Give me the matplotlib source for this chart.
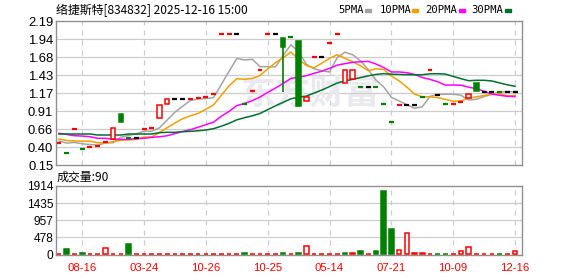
import numpy as np
import matplotlib
matplotlib.use("Agg")
from matplotlib import pyplot as plt
from matplotlib.patches import Rectangle

title = "络捷斯特[834832] 2025-12-16 15:00"
vol_title = "成交量:90"

# candles (one per period)
opens = [0.46, 0.32, 0.655, 0.37, 0.40, 0.415, 0.47, 0.52, 0.87, 0.53,
         0.53, 0.655, 0.67, 0.81, 1.01, 1.08, 1.08, 1.08, 1.10, 1.115,
         1.15, 2.01, 2.01, 2.01, 1.01, 1.20, 1.49, 2.00, 2.00, 1.945,
         1.96, 1.905, 1.05, 1.68, 1.68, 1.88, 2.005, 1.31, 1.365, 1.26,
         1.26, 1.26, 1.01, 0.755, 1.00, 1.00, 1.00, 1.12, 1.49, 1.14,
         1.01, 1.01, 1.04, 1.095, 1.31, 1.19, 1.19, 1.18, 1.19, 1.19]
closes = [0.46, 0.32, 0.655, 0.37, 0.40, 0.415, 0.47, 0.67, 0.76, 0.53,
          0.53, 0.655, 0.67, 1.00, 1.085, 1.08, 1.08, 1.08, 1.10, 1.115,
          1.15, 2.01, 2.01, 2.01, 1.01, 1.20, 1.49, 2.00, 2.00, 1.82,
          1.96, 0.99, 1.11, 1.68, 1.68, 1.88, 2.005, 1.495, 1.495, 1.26,
          1.26, 1.26, 1.01, 0.755, 1.00, 1.00, 1.00, 1.12, 1.49, 1.14,
          1.01, 1.01, 1.04, 1.15, 1.20, 1.19, 1.19, 1.18, 1.19, 1.19]
highs = [0.46, 0.32, 0.655, 0.37, 0.40, 0.415, 0.47, 0.67, 0.87, 0.53,
         0.53, 0.655, 0.67, 1.00, 1.085, 1.08, 1.08, 1.08, 1.10, 1.115,
         1.15, 2.01, 2.01, 2.01, 1.01, 1.20, 1.49, 2.00, 2.00, 1.945,
         1.96, 1.905, 1.11, 1.68, 1.68, 1.88, 2.005, 1.495, 1.495, 1.26,
         1.26, 1.26, 1.035, 0.755, 1.00, 1.00, 1.00, 1.12, 1.49, 1.14,
         1.01, 1.01, 1.04, 1.15, 1.31, 1.19, 1.19, 1.18, 1.19, 1.19]
lows = [0.46, 0.32, 0.655, 0.37, 0.40, 0.415, 0.47, 0.52, 0.76, 0.53,
        0.53, 0.655, 0.67, 0.81, 1.01, 1.08, 1.08, 1.08, 1.10, 1.115,
        1.15, 2.01, 2.01, 2.01, 1.01, 1.20, 1.49, 2.00, 2.00, 1.19,
        1.96, 0.99, 1.05, 1.68, 1.68, 1.88, 2.005, 1.31, 1.365, 1.26,
        1.26, 1.26, 1.01, 0.755, 1.00, 1.00, 1.00, 1.12, 1.49, 1.14,
        1.01, 1.01, 1.04, 1.095, 1.20, 1.19, 1.19, 1.18, 1.19, 1.19]
# r = up, g = down, k = unchanged
candle_kind = ["r", "g", "r", "g", "r", "r", "r", "r", "g", "g",
               "k", "r", "r", "r", "r", "k", "k", "r", "r", "r",
               "r", "r", "r", "k", "g", "r", "r", "r", "k", "g",
               "g", "g", "r", "r", "k", "r", "r", "r", "r", "g",
               "k", "g", "g", "g", "r", "k", "k", "g", "r", "k",
               "g", "r", "r", "r", "g", "k", "k", "g", "k", "k"]

ma5 = [0.490, 0.460, 0.470, 0.450, 0.441, 0.432, 0.462, 0.465, 0.543, 0.569,
       0.592, 0.629, 0.629, 0.677, 0.788, 0.898, 0.983, 1.065, 1.085, 1.091,
       1.105, 1.291, 1.477, 1.659, 1.638, 1.648, 1.544, 1.542, 1.540, 1.702,
       1.854, 1.754, 1.576, 1.512, 1.484, 1.468, 1.671, 1.748, 1.711, 1.627,
       1.503, 1.354, 1.257, 1.109, 1.057, 1.005, 0.953, 0.975, 1.122, 1.150,
       1.152, 1.154, 1.138, 1.070, 1.082, 1.118, 1.154, 1.182, 1.190, 1.188]
ma10 = [0.518, 0.497, 0.490, 0.487, 0.487, 0.466, 0.462, 0.480, 0.500, 0.505,
        0.512, 0.546, 0.547, 0.610, 0.679, 0.745, 0.806, 0.847, 0.881, 0.940,
        1.002, 1.137, 1.271, 1.372, 1.365, 1.377, 1.418, 1.510, 1.600, 1.670,
        1.751, 1.649, 1.559, 1.526, 1.593, 1.661, 1.713, 1.662, 1.612, 1.556,
        1.486, 1.513, 1.503, 1.410, 1.342, 1.254, 1.154, 1.116, 1.116, 1.104,
        1.079, 1.054, 1.057, 1.096, 1.116, 1.135, 1.154, 1.160, 1.130, 1.135]
ma20 = [0.599, 0.582, 0.565, 0.560, 0.551, 0.528, 0.528, 0.514, 0.514, 0.514,
        0.525, 0.528, 0.542, 0.550, 0.565, 0.595, 0.625, 0.650, 0.685, 0.722,
        0.757, 0.841, 0.909, 0.991, 1.022, 1.061, 1.112, 1.178, 1.240, 1.305,
        1.376, 1.393, 1.415, 1.449, 1.479, 1.519, 1.565, 1.586, 1.605, 1.613,
        1.618, 1.581, 1.531, 1.468, 1.468, 1.458, 1.433, 1.389, 1.363, 1.329,
        1.282, 1.283, 1.280, 1.253, 1.229, 1.195, 1.154, 1.138, 1.123, 1.119]
ma30 = [0.589, 0.589, 0.589, 0.589, 0.589, 0.575, 0.575, 0.575, 0.575, 0.589,
        0.589, 0.589, 0.589, 0.608, 0.613, 0.613, 0.622, 0.627, 0.635, 0.645,
        0.665, 0.700, 0.740, 0.790, 0.820, 0.847, 0.880, 0.935, 0.988, 1.038,
        1.088, 1.110, 1.126, 1.169, 1.212, 1.261, 1.312, 1.340, 1.364, 1.388,
        1.413, 1.433, 1.444, 1.436, 1.433, 1.430, 1.428, 1.429, 1.442, 1.443,
        1.438, 1.405, 1.373, 1.344, 1.350, 1.350, 1.340, 1.313, 1.286, 1.265]

volumes = [5, 150, 5, 40, 5, 5, 180, 5, 5, 290,
           5, 5, 5, 5, 5, 5, 5, 5, 5, 5,
           5, 5, 5, 5, 15, 5, 5, 5, 5, 15,
           5, 40, 220, 5, 5, 5, 5, 40, 40, 90,
           5, 90, 1770, 700, 120, 590, 40, 40, 5, 10,
           10, 5, 90, 190, 5, 5, 5, 10, 5, 90]
vol_kind = ["r", "g", "r", "g", "r", "r", "r", "r", "r", "g",
            "r", "r", "r", "r", "r", "r", "r", "r", "r", "r",
            "r", "r", "r", "r", "g", "r", "r", "r", "r", "g",
            "r", "g", "r", "r", "r", "r", "r", "g", "r", "g",
            "r", "g", "g", "g", "r", "r", "r", "r", "r", "g",
            "g", "r", "r", "r", "r", "r", "r", "g", "r", "r"]

price_ticks = ["0.15", "0.40", "0.66", "0.91", "1.17", "1.43", "1.68", "1.94", "2.19"]
vol_ticks = ["0", "478", "957", "1435", "1914"]
date_pos = [3, 11, 19, 27, 35, 43, 51, 59]
date_labels = ["08-16", "03-24", "10-26", "10-25", "05-14", "07-21", "10-09", "12-16"]

ma_names = ["5PMA", "10PMA", "20PMA", "30PMA"]
ma_colors = ["#A4A4A4", "#F0A000", "#FF00FF", "#007030"]
kind_color = {"r": "#FF0000", "g": "#008000", "k": "#000000"}
grid_c = "#CCCCCC"
frame_c = "#909090"

W, H = 578, 276
fig = plt.figure(figsize=(W / 100, H / 100), dpi=100)


def frac(x0, y0, x1, y1):
    return [x0 / W, 1 - y1 / H, (x1 - x0) / W, (y1 - y0) / H]


n = len(closes)
x = np.arange(n)
xlim = (-0.39, 59.9)

ax = fig.add_axes(frac(56, 21, 522, 165))
axv = fig.add_axes(frac(56, 186, 522, 255))

for a in (ax, axv):
    a.set_xlim(*xlim)
    for sp in a.spines.values():
        sp.set_color(frame_c)
        sp.set_linewidth(1)
    for p in date_pos:
        a.axvline(p, color=grid_c, lw=0.9, ls=(0, (4, 4)), zorder=0)
    a.tick_params(length=0)

# price panel
pt = np.linspace(0.15, 2.19, len(price_ticks))
ax.set_ylim(0.15, 2.19)
ax.set_yticks(pt)
ax.set_yticklabels(price_ticks, fontfamily="Liberation Sans", fontsize=9.4)
ax.tick_params(axis="y", pad=2)
ax.set_xticks([])
for v in pt[1:-1]:
    ax.axhline(v, color=grid_c, lw=0.9, zorder=0)

ax.text(0.545, 0.5, "东方财富", transform=ax.transAxes, ha="center",
        va="center", fontsize=25, fontweight="bold",
        fontfamily="Noto Sans CJK SC", color="#E9E9EE", zorder=0.5)

for vals, c in zip([ma5, ma10, ma20, ma30], ma_colors):
    ax.plot(x, vals, color=c, lw=1.1, zorder=2)

for i in range(n):
    o, c, h, l = opens[i], closes[i], highs[i], lows[i]
    col = kind_color[candle_kind[i]]
    top, bot = max(o, c), min(o, c)
    if h > top:
        ax.vlines(i, top, h, color=col, lw=1.2, zorder=3)
    if l < bot:
        ax.vlines(i, l, bot, color=col, lw=1.2, zorder=3)
    if o == c:
        ax.hlines(c, i - 0.32, i + 0.32, color=col, lw=1.6, zorder=3)
    else:
        ax.bar(i, top - bot, bottom=bot, width=0.58,
               facecolor="white" if candle_kind[i] == "r" else col,
               edgecolor=col, lw=1.1, zorder=3)

# volume panel
vt = np.linspace(0, 1914, len(vol_ticks))
axv.set_ylim(-28, 1914)
axv.set_yticks(vt)
axv.set_yticklabels(vol_ticks, fontfamily="Liberation Sans", fontsize=8.6)
axv.tick_params(axis="y", pad=2)
for v in vt[1:-1]:
    axv.axhline(v, color=grid_c, lw=0.9, zorder=0)
vcols = [kind_color[k] for k in vol_kind]
axv.bar(x, volumes, width=0.6,
        color=["white" if k == "r" else kind_color[k] for k in vol_kind],
        edgecolor=vcols, lw=1.1, zorder=3)
axv.set_xticks(date_pos)
axv.set_xticklabels(date_labels, color="#FF0000", fontsize=8.2,
                    fontfamily="Liberation Sans")
axv.tick_params(axis="x", pad=6)

# header texts
fig.text(56 / W, 1 - 10 / H, title, fontsize=8.6, va="center", ha="left",
         fontfamily=["Noto Sans CJK SC", "DejaVu Sans"], color="#000000")
fig.text(57 / W, 1 - 177 / H, vol_title, fontsize=8.6, va="center", ha="left",
         fontfamily=["Noto Sans CJK SC", "DejaVu Sans"], color="#000000")

leg_x = [338, 380, 425, 471]
dash_x = [365, 412, 459, 505]
for name, c, tx, dx in zip(ma_names, ma_colors, leg_x, dash_x):
    fig.text(tx / W, 1 - 10 / H, name, fontsize=7.6, va="center", ha="left",
             fontfamily="DejaVu Sans Mono", color="#000000")
    fig.patches.append(Rectangle((dx / W, 1 - 11.5 / H), 6 / W, 2.5 / H,
                                 transform=fig.transFigure, color=c))

fig.savefig("out.png", dpi=100)
